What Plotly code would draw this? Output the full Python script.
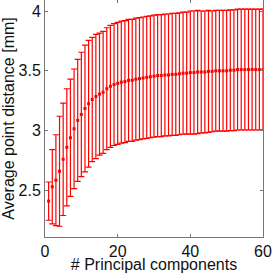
import plotly.graph_objects as go

components = list(range(1, 61))
mean_dist = [2.41, 2.53, 2.585, 2.66, 2.76, 2.86, 2.94, 3.015, 3.085, 3.135,
             3.185, 3.225, 3.26, 3.285, 3.305, 3.32, 3.35, 3.37, 3.385, 3.395,
             3.405, 3.41, 3.42, 3.42, 3.43, 3.435, 3.44, 3.445, 3.45, 3.455,
             3.46, 3.46, 3.465, 3.465, 3.47, 3.47, 3.475, 3.48, 3.48, 3.485,
             3.485, 3.49, 3.49, 3.49, 3.495, 3.495, 3.5, 3.5, 3.5, 3.5,
             3.505, 3.505, 3.51, 3.51, 3.51, 3.51, 3.51, 3.51, 3.51, 3.51]
std_dist = [0.16, 0.31, 0.38, 0.46, 0.47, 0.49, 0.49, 0.50, 0.51, 0.52,
            0.53, 0.53, 0.52, 0.52, 0.51, 0.51, 0.51, 0.51, 0.51, 0.51,
            0.51, 0.51, 0.51, 0.51, 0.51, 0.51, 0.51, 0.51, 0.51, 0.51,
            0.51, 0.51, 0.51, 0.51, 0.51, 0.51, 0.51, 0.51, 0.51, 0.515,
            0.515, 0.515, 0.51, 0.51, 0.51, 0.505, 0.505, 0.505, 0.505, 0.505,
            0.505, 0.505, 0.505, 0.505, 0.505, 0.505, 0.505, 0.505, 0.505, 0.505]
x_ticks = [0, 20, 40, 60]
y_ticks = [2.5, 3, 3.5, 4]

red = "#ff0000"
fig = go.Figure(go.Scatter(
    x=components, y=mean_dist, mode="markers",
    marker=dict(symbol="square", size=3, color=red),
    error_y=dict(type="data", array=std_dist, visible=True,
                 color=red, thickness=1.2, width=3),
))

font = dict(family="Liberation Sans, Arial, sans-serif", size=16, color="#111")
axis_common = dict(showgrid=False, zeroline=False, showline=True, mirror="ticks",
                   linecolor="#777", linewidth=1, ticks="inside", ticklen=3,
                   tickcolor="#777", tickfont=font)
fig.update_layout(
    width=273, height=273,
    margin=dict(l=45, r=10, t=0, b=36),
    plot_bgcolor="white", paper_bgcolor="white",
    showlegend=False,
    xaxis=dict(range=[0, 60], tickvals=x_ticks,
               title=dict(text="# Principal components", font=font, standoff=2),
               **axis_common),
    yaxis=dict(range=[2.11, 4.092], tickvals=y_ticks,
               title=dict(text="Average point distance [mm]", font=font, standoff=2),
               **axis_common),
)
fig.write_html("out.html", config={"displayModeBar": False},
               post_script="document.body.style.margin='0';document.body.style.overflow='hidden';")
